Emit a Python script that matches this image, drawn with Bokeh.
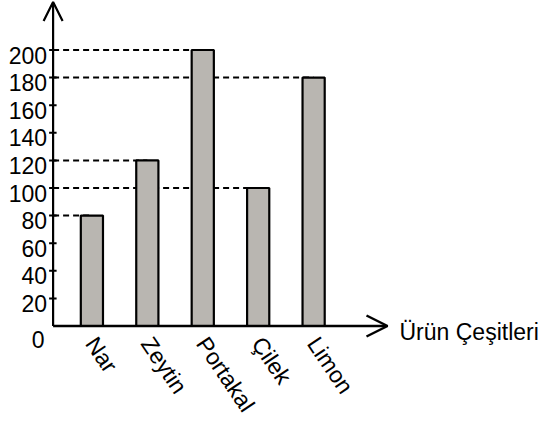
import math
from bokeh.plotting import figure
from bokeh.models import Range1d, Arrow, OpenHead
from bokeh.core.properties import value
from bokeh.embed import file_html
from bokeh.resources import INLINE

# ---- data ----
categories = ["Nar", "Zeytin", "Portakal", "Çilek", "Limon"]
amounts = [80, 120, 200, 100, 180]
y_ticks = [20, 40, 60, 80, 100, 120, 140, 160, 180, 200]
y_tick_labels = ["20", "40", "60", "80", "100", "120", "140", "160", "180", "200"]
zero_label = "0"
x_title = "Ürün Çeşitleri"

# ---- layout constants (screen mapping) ----
W, H = 550, 422
PXX = 55.43     # px per category step
PXY = 1.38      # px per value unit
C1 = 91.4       # x px of first category
Y0 = 325.5      # y px of value 0

def dx(px):
    return px / PXX

def dy(px):
    return px / PXY

xs = list(range(1, len(categories) + 1))
AXIS_X = 1 - dx(C1 - 52.6)
X_TIP = 1 + dx(387 - C1)
Y_TIP = dy(Y0 - 1.5)

p = figure(width=W, height=H, output_backend="svg", toolbar_location=None,
           x_axis_type=None, y_axis_type=None, min_border=0,
           x_range=Range1d(1 - dx(C1), 1 + dx(W - C1)),
           y_range=Range1d(-dy(H - Y0), dy(Y0)))
p.grid.visible = False
p.outline_line_color = None
p.background_fill_color = "white"
p.border_fill_color = "white"

FONT = value("Liberation Sans")
FS = "23px"

# dashed reference lines (behind bars)
p.segment(x0=[AXIS_X] * len(xs), y0=amounts, x1=xs, y1=amounts,
          line_color="black", line_width=2, line_dash="6 4")

# bars
p.vbar(x=xs, top=amounts, bottom=0, width=0.40,
       fill_color="#b9b6b1", line_color="black", line_width=2.2)

# y ticks
p.segment(x0=[AXIS_X - dx(4)] * len(y_ticks), y0=y_ticks,
          x1=[AXIS_X + dx(3.5)] * len(y_ticks), y1=y_ticks,
          line_color="black", line_width=2)

# y tick labels
p.text(x=[AXIS_X - dx(6)] * len(y_ticks), y=[t - dy(5) for t in y_ticks],
       text=y_tick_labels, text_font=FONT, text_font_size=FS,
       text_align="right", text_baseline="alphabetic", text_color="black")
p.text(x=[AXIS_X - dx(8.6)], y=[-dy(13.5)], text=[zero_label],
       text_font=FONT, text_font_size=FS, text_align="right",
       text_baseline="alphabetic", text_color="black")

# category labels (rotated)
p.text(x=[x + dx(10) for x in xs], y=-dy(6), text=categories,
       angle=-math.radians(56),
       text_font=FONT, text_font_size=FS, text_align="left",
       text_baseline="top", text_color="black")

# x axis title
p.text(x=[1 + dx(399 - C1)], y=[-dy(6)], text=[x_title],
       text_font=FONT, text_font_size=FS, text_align="left",
       text_baseline="alphabetic", text_color="black")

# axes with arrows
p.add_layout(Arrow(x_start=AXIS_X, y_start=0, x_end=X_TIP, y_end=0,
                   line_color="black", line_width=2.5,
                   end=OpenHead(size=21, line_width=2.5, line_color="black")))
p.add_layout(Arrow(x_start=AXIS_X, y_start=0, x_end=AXIS_X, y_end=Y_TIP,
                   line_color="black", line_width=2.2,
                   end=OpenHead(size=19, line_width=2.2, line_color="black")))

open("out.html", "w").write(file_html(p, INLINE))
